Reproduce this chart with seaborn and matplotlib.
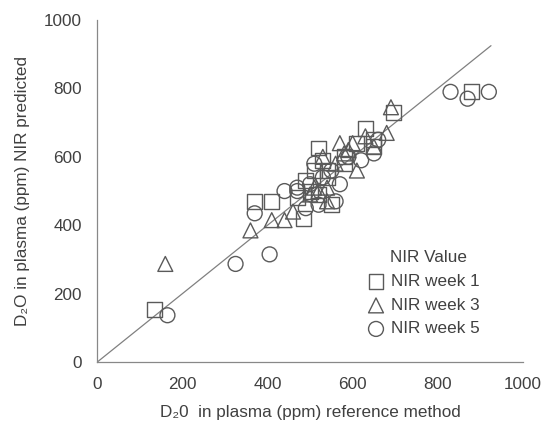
import matplotlib
matplotlib.use("Agg")
import matplotlib.pyplot as plt
import seaborn as sns
import pandas as pd

# Week 1 (squares)
w1_x = [135, 370, 410, 485, 490, 470, 510, 520, 540, 540, 550, 530, 580, 610, 630, 650, 650, 695, 880, 520, 500, 580]
w1_y = [155, 470, 470, 420, 530, 480, 560, 626, 560, 540, 460, 590, 580, 640, 684, 650, 630, 730, 790, 490, 500, 600]
# Week 3 (triangles)
w3_x = [160, 360, 410, 440, 460, 500, 510, 530, 540, 570, 590, 600, 610, 630, 650, 680, 690, 540, 560, 520, 580]
w3_y = [287, 385, 415, 415, 440, 490, 510, 600, 510, 640, 620, 640, 560, 660, 630, 670, 745, 470, 580, 500, 610]
# Week 5 (circles)
w5_x = [165, 325, 405, 370, 440, 470, 500, 470, 510, 520, 560, 570, 590, 620, 650, 660, 830, 870, 920, 530, 490, 550]
w5_y = [137, 287, 315, 435, 500, 500, 520, 510, 580, 460, 470, 520, 600, 590, 610, 650, 790, 770, 790, 540, 450, 560]

series_names = ["NIR week 1", "NIR week 3", "NIR week 5"]
series_markers = ["s", "^", "o"]
legend_title = "NIR Value"
line_x = [0, 925]
line_y = [0, 925]

sns.set_style("white")
plt.rcParams['font.family'] = ['Liberation Sans', 'DejaVu Sans']

W, H = 543, 426
fig = plt.figure(figsize=(W / 100, H / 100), dpi=100)
ax = fig.add_axes([0.179, 0.150, 0.784, 0.803])

text_c = "#404040"
edge_c = "#5a5a5a"
fs = 12.3

ax.plot(line_x, line_y, color="#808080", lw=0.9, zorder=1)

for name, mk, xs, ys in zip(series_names, series_markers,
                            [w1_x, w3_x, w5_x], [w1_y, w3_y, w5_y]):
    df = pd.DataFrame({"x": xs, "y": ys})
    sns.scatterplot(data=df, x="x", y="y", marker=mk, s=115, ax=ax,
                    facecolor="none", edgecolor=edge_c, linewidth=1.0,
                    label=name, zorder=2)

ax.set_xlim(0, 1000)
ax.set_ylim(0, 1000)
ax.set_xticks([0, 200, 400, 600, 800, 1000])
ax.set_yticks([0, 200, 400, 600, 800, 1000])
ax.tick_params(axis="x", direction="in", length=5, color="#888888", labelsize=fs, labelcolor=text_c, pad=11)
ax.tick_params(axis="y", length=0, labelsize=fs, labelcolor=text_c, pad=11)
for s in ["top", "right"]:
    ax.spines[s].set_visible(False)
for s in ["left", "bottom"]:
    ax.spines[s].set_color("#888888")
    ax.spines[s].set_linewidth(0.9)

ax.set_xlabel("D\u20820  in plasma (ppm) reference method", fontsize=fs, color=text_c, labelpad=9)
ax.set_ylabel("D\u2082O in plasma (ppm) NIR predicted", fontsize=fs, color=text_c, labelpad=10)

leg = ax.legend(loc="upper left", bbox_to_anchor=(355.5 / W, 1 - 267.5 / H),
                bbox_transform=fig.transFigure,
                frameon=False, fontsize=fs,
                handletextpad=0.1, labelspacing=0.5, borderaxespad=0,
                handlelength=1.6)
for t in leg.get_texts():
    t.set_color(text_c)
fig.text(390 / W, 1 - 258 / H, legend_title, fontsize=fs, color=text_c,
         ha="left", va="center")

fig.savefig("out.png", dpi=100)
